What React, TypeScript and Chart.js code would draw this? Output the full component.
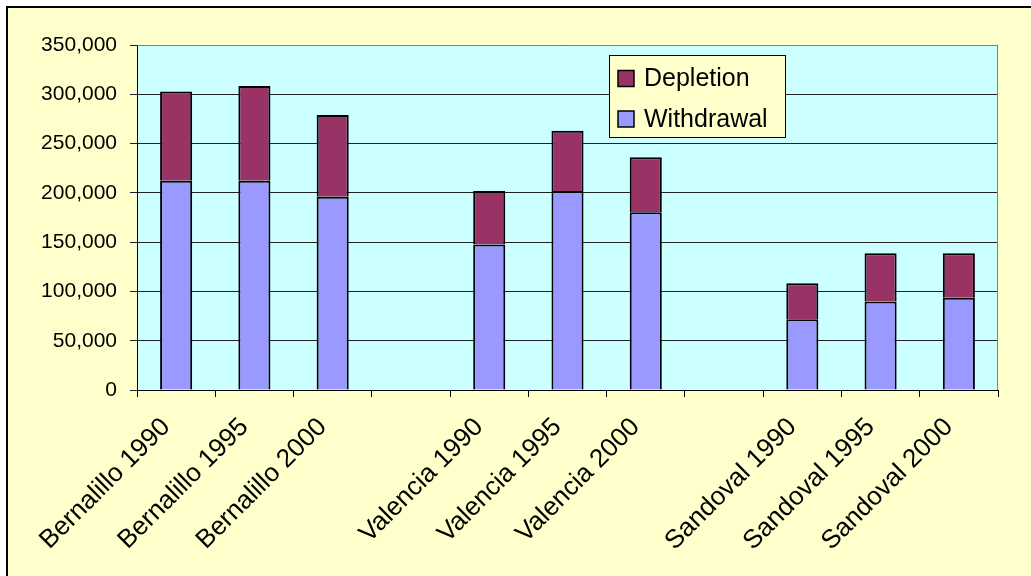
import React, { useEffect, useRef } from 'react';
import { Chart, registerables } from 'chart.js';

Chart.register(...registerables);

const categories = [
  'Bernalillo 1990', 'Bernalillo 1995', 'Bernalillo 2000', '',
  'Valencia 1990', 'Valencia 1995', 'Valencia 2000', '',
  'Sandoval 1990', 'Sandoval 1995', 'Sandoval 2000',
];
const withdrawal = [212300, 212300, 196100, null, 147500, 201800, 180300, null, 71900, 89700, 93500];
const depletion = [90500, 96000, 83000, null, 54300, 61100, 55700, null, 36500, 49000, 45300];
const yTicks = [0, 50000, 100000, 150000, 200000, 250000, 300000, 350000];

const FONT = '"Liberation Sans", Arial, sans-serif';

const plotBg = {
  id: 'plotBg',
  beforeDraw(chart: any) {
    const { ctx, chartArea: a } = chart;
    ctx.save();
    ctx.fillStyle = '#FFFFCC';
    ctx.fillRect(8, 8, chart.width, chart.height);
    ctx.fillStyle = '#000';
    ctx.fillRect(6, 6, 2, chart.height);
    ctx.fillRect(6, 6, chart.width, 2);
    ctx.fillStyle = '#CCFFFF';
    ctx.fillRect(a.left, a.top, a.right - a.left, a.bottom - a.top);
    ctx.restore();
  },
  beforeDatasetsDraw(chart: any) {
    const { ctx, chartArea: a } = chart;
    ctx.save();
    ctx.strokeStyle = '#808080';
    ctx.lineWidth = 1;
    ctx.beginPath();
    ctx.moveTo(Math.round(a.left) + 0.5, Math.round(a.top) + 0.5);
    ctx.lineTo(Math.round(a.right) - 0.5, Math.round(a.top) + 0.5);
    ctx.lineTo(Math.round(a.right) - 0.5, Math.round(a.bottom));
    ctx.stroke();
    ctx.restore();
  },
};

const customLegend = {
  id: 'customLegend',
  afterDraw(chart: any) {
    const { ctx } = chart;
    const items = [chart.data.datasets[1], chart.data.datasets[0]];
    const x0 = 609.5, y0 = 55.5, w = 176, h = 82;
    ctx.save();
    ctx.fillStyle = '#FFFFCC';
    ctx.fillRect(x0, y0, w, h);
    ctx.strokeStyle = '#000';
    ctx.lineWidth = 1;
    ctx.strokeRect(x0, y0, w, h);
    ctx.font = `25px ${FONT}`;
    ctx.textBaseline = 'middle';
    ctx.textAlign = 'left';
    items.forEach((ds: any, i: number) => {
      const cy = 78.5 + i * 40.5;
      ctx.fillStyle = ds.backgroundColor;
      ctx.fillRect(618, cy - 8, 16, 16);
      ctx.lineWidth = 1.5;
      ctx.strokeStyle = '#000';
      ctx.strokeRect(618, cy - 8, 16, 16);
      ctx.fillStyle = '#000';
      ctx.fillText(ds.label, 644, cy + 1);
    });
    ctx.restore();
  },
};

export default function App() {
  const ref = useRef<HTMLCanvasElement>(null);
  useEffect(() => {
    if (!ref.current) return;
    const chart = new Chart(ref.current, {
      type: 'bar',
      data: {
        labels: categories,
        datasets: [
          {
            label: 'Withdrawal',
            data: withdrawal,
            backgroundColor: '#9999FF',
            borderColor: '#000',
            borderWidth: 2,
            barPercentage: 0.41,
            categoryPercentage: 1,
          },
          {
            label: 'Depletion',
            data: depletion,
            backgroundColor: '#993366',
            borderColor: '#000',
            borderWidth: 2,
            barPercentage: 0.41,
            categoryPercentage: 1,
          },
        ],
      },
      options: {
        responsive: false,
        animation: false,
        layout: { padding: { top: 45, right: 33, left: 0, bottom: 0 } },
        plugins: { legend: { display: false }, tooltip: { enabled: false } },
        scales: {
          x: {
            stacked: true,
            grid: { offset: true, drawOnChartArea: false, drawTicks: true, tickLength: 7, color: '#000' },
            border: { color: '#000', width: 1 },
            ticks: {
              autoSkip: false,
              maxRotation: 45,
              minRotation: 45,
              color: '#000',
              font: { family: FONT, size: 26 },
              padding: 15,
              labelOffset: -10,
            },
            afterFit(scale: any) { scale.height = 186; },
          },
          y: {
            stacked: true,
            min: 0,
            max: 350000,
            afterBuildTicks(scale: any) { scale.ticks = yTicks.map((v) => ({ value: v })); },
            grid: { color: '#222', tickLength: 7, lineWidth: 1 },
            border: { color: '#000', width: 1 },
            ticks: {
              color: '#000',
              font: { family: FONT, size: 21 },
              padding: 13,
              callback: (v: any) => Number(v).toLocaleString('en-US'),
            },
            afterFit(scale: any) { scale.width = 137; },
          },
        },
      },
      plugins: [plotBg, customLegend],
    });
    return () => chart.destroy();
  }, []);

  return (
    <div style={{ position: 'fixed', left: 0, top: 0, width: 1031, height: 576, overflow: 'hidden', background: '#fff' }}>
      <canvas ref={ref} width={1031} height={576} style={{ position: 'absolute', left: 0, top: 0, display: 'block' }} />
    </div>
  );
}
